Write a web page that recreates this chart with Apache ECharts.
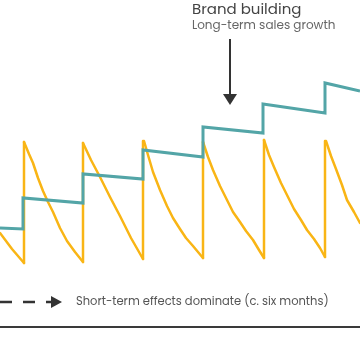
<!DOCTYPE html>
<html><head><meta charset="utf-8">
<script src="https://cdn.jsdelivr.net/npm/echarts@6/dist/echarts.min.js"></script>
<style>html,body{margin:0;padding:0;background:#fff}#c{width:360px;height:360px}</style>
</head><body><div id="c"></div>
<script>
// Time in tenths of the chart width (6 months ~ 6 units), level in arbitrary sales units
var pulseTimes = [2.4, 8.3, 14.3, 20.3, 26.4, 32.5];
// short-term sales response (yellow): decay segments
var decay0 = [[0, 12.7], [1.2, 11.1], [2.4, 9.7]];
var decay1 = [[2.4, 21.8], [2.9, 20.6], [3.3, 19.7], [3.8, 18.2], [4.3, 16.9], [4.8, 15.8], [5.3, 14.8], [6.0, 13.2], [6.7, 11.9], [7.5, 10.8], [8.3, 9.8]];
var decay2 = [[8.3, 21.7], [9.1, 20.0], [10.0, 18.3], [11.0, 16.3], [12.0, 14.4], [13.1, 12.2], [14.3, 10.1]];
var decay3 = [[14.4, 21.9], [14.8, 20.5], [15.3, 18.8], [16.0, 17.0], [16.7, 15.4], [17.3, 14.2], [18.0, 13.1], [18.6, 12.2], [19.3, 11.4], [20.3, 10.2]];
var decay4 = [[20.3, 21.8], [20.8, 20.3], [21.3, 19.0], [22.0, 17.4], [22.7, 16.0], [23.3, 14.8], [24.0, 13.8], [24.6, 12.9], [25.3, 12.0], [25.9, 11.0], [26.4, 10.2]];
var decay5 = [[26.4, 22.0], [26.9, 20.5], [27.4, 19.3], [28.1, 17.7], [28.8, 16.3], [29.4, 15.1], [30.1, 14.0], [30.7, 13.0], [31.4, 12.1], [32.0, 11.2], [32.5, 10.3]];
var decay6 = [[32.6, 21.9], [33.1, 20.4], [33.6, 19.1], [34.2, 17.5], [34.7, 16.0], [35.4, 14.8], [36.0, 13.7]];
var pulseLows = [9.7, 9.8, 10.1, 10.2, 10.2, 10.3];
var pulseHighs = [21.8, 21.7, 21.9, 21.8, 22.0, 21.9];
// long-term brand building (teal): step line
var brand = [[0, 13.2], [2.3, 13.1], [2.3, 16.2], [8.3, 15.7], [8.3, 18.6], [14.3, 18.1], [14.3, 21.0],
  [20.3, 20.3], [20.3, 23.3], [26.3, 22.7], [26.3, 25.6], [32.5, 24.7], [32.5, 27.7], [36, 26.9]];
var titleText = 'Brand building';
var subText = 'Long-term sales growth';
var bottomText = 'Short-term effects dominate (c. six months)';

var YEL = '#F9B515', TEAL = '#53A5A7';
var decays = [decay0, decay1, decay2, decay3, decay4, decay5, decay6];
var riseData = [];
pulseTimes.forEach(function (t, i) { if (i) riseData.push(null); riseData.push([t, pulseLows[i]], [t, pulseHighs[i]]); });

var series = decays.map(function (d) {
  return {type: 'line', data: d, symbol: 'none', lineStyle: {color: YEL, width: 2.5, join: 'round', cap: 'round'}, z: 2};
});
series.push({type: 'line', data: riseData, connectNulls: false, symbol: 'none', lineStyle: {color: YEL, width: 2.5, cap: 'round'}, z: 2});
series.push({type: 'line', data: brand, symbol: 'none', lineStyle: {color: TEAL, width: 3, join: 'miter'}, z: 3});

var chart = echarts.init(document.getElementById('c'), null, {renderer: 'canvas'});
var F = 'Poppins, "Noto Sans", sans-serif';
chart.setOption({
  animation: false,
  grid: {left: 0, right: 0, top: 0, height: 327},
  xAxis: {type: 'value', min: 0, max: 36, axisLabel: {show: false}, axisTick: {show: false}, splitLine: {show: false},
    axisLine: {show: true, lineStyle: {color: '#3a3a3a', width: 2}}},
  yAxis: {type: 'value', min: 3.3, max: 36, show: false},
  series: series,
  graphic: [
    {type: 'text', left: 192, top: 3, style: {text: titleText, font: '400 15px ' + F, fill: '#444'}},
    {type: 'text', left: 192, top: 20, style: {text: subText, font: '400 12px ' + F, fill: '#666'}},
    {type: 'line', shape: {x1: 230, y1: 39, x2: 230, y2: 97}, style: {stroke: '#333', lineWidth: 2}},
    {type: 'polygon', shape: {points: [[223, 94], [237, 94], [230, 105]]}, style: {fill: '#333'}},
    {type: 'line', shape: {x1: 0, y1: 302, x2: 55, y2: 302}, style: {stroke: '#333', lineWidth: 2.5, lineDash: [12, 11]}},
    {type: 'polygon', shape: {points: [[51, 296], [62, 302], [51, 308]]}, style: {fill: '#333'}},
    {type: 'text', left: 76, top: 296, style: {text: bottomText, font: '400 11.5px ' + F, fill: '#555'}}
  ]
});
</script></body></html>
